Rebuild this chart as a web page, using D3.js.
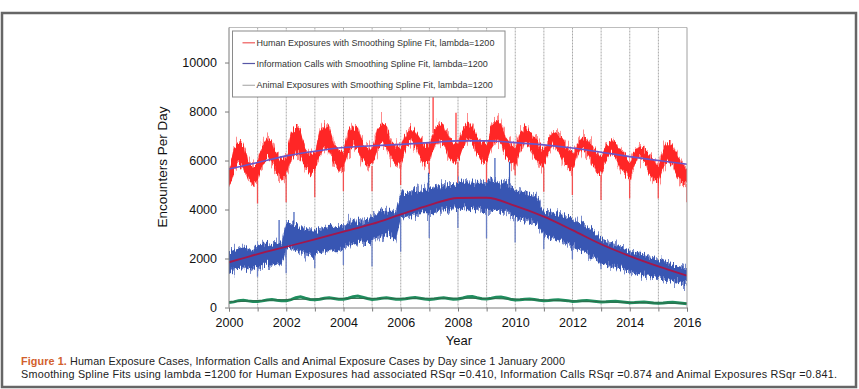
<!DOCTYPE html>
<html>
<head>
<meta charset="utf-8">
<script src="https://cdn.jsdelivr.net/npm/d3@7/dist/d3.min.js"></script>
<style>
  html, body { margin: 0; padding: 0; background: #fff; }
  svg { display: block; }
</style>
</head>
<body>
<div id="chart"></div>
<script>
// x ticks and y ticks
const yearTicks = d3.range(2000, 2017);
const yearLabels = [2000, 2002, 2004, 2006, 2008, 2010, 2012, 2014, 2016];
const yTicks = [0, 2000, 4000, 6000, 8000, 10000];

// bimonthly samples (Jan, Mar, May, Jul, Sep, Nov) from 2000 to 2016.0
const humanHigh = [
  5600, 6500, 6750, 6650, 5990, 5740,
  5900, 6620, 6870, 6770, 6250, 6000,
  6130, 7100, 7350, 7250, 6480, 6230,
  6300, 7230, 7480, 7380, 6650, 6400,
  6410, 7160, 7410, 7310, 6760, 6510,
  6480, 7230, 7480, 7380, 6830, 6580,
  6540, 7050, 7300, 7200, 6890, 6640,
  6610, 7250, 7500, 7400, 6960, 6710,
  6650, 7300, 7550, 7450, 7000, 6750,
  6610, 7400, 7650, 7550, 6960, 6710,
  6530, 7100, 7350, 7250, 6880, 6630,
  6420, 6900, 7150, 7050, 6770, 6520,
  6270, 6680, 6930, 6830, 6620, 6370,
  6100, 6580, 6830, 6730, 6450, 6200,
  5930, 6350, 6600, 6500, 6280, 6030,
  5780, 6470, 6720, 6620, 6130, 5880,
  5600
];
const humanLow = [
  4900, 5540, 5890, 5690, 5240, 4990,
  5200, 5800, 6150, 5950, 5500, 5250,
  5430, 6030, 6380, 6180, 5730, 5480,
  5600, 6200, 6550, 6350, 5900, 5650,
  5710, 6310, 6660, 6460, 6010, 5760,
  5780, 6380, 6730, 6530, 6080, 5830,
  5840, 6440, 6790, 6590, 6140, 5890,
  5910, 6510, 6860, 6660, 6210, 5960,
  5950, 6550, 6900, 6700, 6250, 6000,
  5910, 6510, 6860, 6660, 6210, 5960,
  5830, 6430, 6780, 6580, 6130, 5880,
  5720, 6320, 6670, 6470, 6020, 5770,
  5570, 6170, 6520, 6320, 5870, 5620,
  5400, 6000, 6350, 6150, 5700, 5450,
  5230, 5830, 6180, 5980, 5530, 5280,
  5080, 5680, 6030, 5830, 5380, 5130,
  5050
];
const infoHigh = [
  2250, 2350, 2400, 2450, 2400, 2350,
  2500, 2600, 2600, 2550, 2650, 2600,
  3450, 3450, 3350, 3250, 3200, 3150,
  3150, 3200, 3250, 3300, 3250, 3250,
  3350, 3450, 3550, 3550, 3500, 3550,
  3700, 3800, 3900, 3950, 3950, 3850,
  4650, 4700, 4750, 4750, 4800, 4850,
  4850, 4900, 4950, 4950, 5000, 5000,
  5100, 5150, 5100, 5100, 5050, 5050,
  5100, 5200, 5100, 5050, 5100, 4950,
  4750, 4700, 4650, 4600, 4550, 4400,
  3950, 3900, 3850, 3800, 3750, 3700,
  3650, 3550, 3450, 3300, 3150, 3000,
  2800, 2700, 2600, 2550, 2450, 2400,
  2300, 2250, 2200, 2150, 2050, 2000,
  1950, 1900, 1850, 1750, 1700, 1650,
  1550
];
const infoLow = [
  1450, 1550, 1600, 1650, 1600, 1550,
  1650, 1750, 1750, 1700, 1800, 1750,
  2400, 2450, 2350, 2250, 2200, 2150,
  2150, 2250, 2300, 2350, 2300, 2300,
  2450, 2550, 2600, 2650, 2600, 2650,
  2750, 2850, 2950, 3000, 2950, 2800,
  3650, 3700, 3750, 3800, 3850, 3850,
  3850, 3900, 3950, 3950, 4000, 4000,
  4000, 4050, 4050, 4000, 3950, 3950,
  3950, 4000, 4000, 3950, 3950, 3850,
  3650, 3600, 3550, 3500, 3450, 3300,
  2950, 2900, 2850, 2750, 2700, 2600,
  2500, 2400, 2300, 2200, 2050, 1950,
  1800, 1750, 1700, 1650, 1600, 1550,
  1500, 1450, 1400, 1350, 1300, 1250,
  1200, 1150, 1100, 1100, 1050, 1000,
  1000
];
const animal = [
  200, 230, 280, 300, 270, 250,
  250, 270, 310, 330, 300, 280,
  280, 320, 400, 440, 380, 330,
  320, 340, 380, 400, 370, 340,
  340, 380, 440, 470, 420, 370,
  330, 350, 380, 400, 370, 340,
  340, 360, 390, 410, 380, 350,
  330, 350, 380, 400, 370, 340,
  350, 390, 440, 450, 400, 360,
  350, 380, 420, 430, 390, 340,
  310, 320, 340, 350, 330, 300,
  280, 290, 310, 320, 300, 280,
  250, 260, 275, 285, 265, 245,
  220, 230, 245, 255, 235, 215,
  190, 200, 215, 225, 205, 185,
  170, 180, 200, 210, 190, 170,
  150
];

// smoothing spline fits, one value per 1 January
const humanFit = [5650, 5920, 6190, 6380, 6530, 6600, 6660, 6730, 6800, 6800, 6730, 6640, 6510, 6340, 6160, 6000, 5850];
const infoFit = [1845, 2180, 2480, 2780, 3095, 3410, 3800, 4180, 4470, 4480, 4150, 3710, 3160, 2580, 2100, 1680, 1300];
const animalFit = [230, 280, 320, 350, 370, 370, 370, 375, 380, 370, 340, 300, 265, 235, 205, 185, 165];

// New Year dips, 2001 ... 2016
const dipYears = d3.range(2001, 2017);
const humanDips = [4250, 4300, 4500, 4750, 4750, 5000, 5450, 4930, 5080, 5400, 4730, 4590, 4390, 4450, 4450, 4300];
const infoDips = [1260, 1400, 1610, 1735, 1670, 2280, 2840, 3250, 2830, 2650, 2380, 1970, 1560, 1370, 1150, 900];

// single-day spikes [year, value]
const humanSpikes = [[2007.13, 8600], [2007.93, 7950]];
const infoSpikes = [[2001.75, 3570], [2002.27, 3900], [2006.97, 5500], [2009.29, 6100], [2009.8, 5950]];

const legendItems = [
  { label: 'Human Exposures with Smoothing Spline Fit, lambda=1200', color: '#ee5a5a' },
  { label: 'Information Calls with Smoothing Spline Fit, lambda=1200', color: '#5656a6' },
  { label: 'Animal Exposures with Smoothing Spline Fit, lambda=1200', color: '#b0b0b0' }
];

const width = 859, height = 389;
const times = d3.range(humanHigh.length).map(i => 2000 + i / 6);

const svg = d3.select('#chart').append('svg')
  .attr('width', width)
  .attr('height', height);

// day-to-day jitter texture for the dense daily bands (vertical only)
const defs = svg.append('defs');
function jitter(id, seed, scale, fy) {
  const f = defs.append('filter').attr('id', id)
    .attr('x', '-2%').attr('y', '-25%').attr('width', '104%').attr('height', '150%');
  f.append('feTurbulence')
    .attr('type', 'fractalNoise')
    .attr('baseFrequency', `0.7 ${fy}`)
    .attr('numOctaves', 2)
    .attr('seed', seed)
    .attr('result', 'noise');
  f.append('feColorMatrix')
    .attr('in', 'noise')
    .attr('type', 'matrix')
    .attr('values', '1 0 0 0 0  0 0 0 0 0.5  0 0 0 0 0  0 0 0 0 1')
    .attr('result', 'nm');
  f.append('feDisplacementMap')
    .attr('in', 'SourceGraphic')
    .attr('in2', 'nm')
    .attr('scale', scale)
    .attr('xChannelSelector', 'G')
    .attr('yChannelSelector', 'R');
}
jitter('jit-core', 3, 16, 0.06);
jitter('jit-fringe', 11, 34, 0.04);
jitter('jit-fringe-b', 7, 24, 0.04);

svg.append('rect')
  .attr('x', 2).attr('y', 13)
  .attr('width', 854).attr('height', 374)
  .attr('fill', '#fff')
  .attr('stroke', '#666')
  .attr('stroke-width', 2.5);

const x = d3.scaleLinear().domain([2000, 2016]).range([229, 687]);
const y = d3.scaleLinear().domain([0, 11430]).range([307.5, 27.5]);

svg.append('clipPath').attr('id', 'plot-clip')
  .append('rect')
  .attr('x', x(2000)).attr('y', y(11430))
  .attr('width', x(2016) - x(2000)).attr('height', y(0) - y(11430));

// year grid
svg.append('g')
  .selectAll('line')
  .data(yearTicks.slice(1, -1))
  .join('line')
  .attr('x1', d => x(d)).attr('x2', d => x(d))
  .attr('y1', y(11430)).attr('y2', y(0))
  .attr('stroke', '#a9a9a9')
  .attr('stroke-dasharray', '2,1');

const plot = svg.append('g').attr('clip-path', 'url(#plot-clip)');

function band(high, low, color, fringe, fringeFilter) {
  const area = d3.area()
    .x((d, i) => x(times[i]))
    .y0((d, i) => y(low[i]))
    .y1(d => y(d));
  plot.append('path')
    .datum(high)
    .attr('d', area)
    .attr('fill', fringe)
    .attr('filter', `url(#${fringeFilter})`);
  plot.append('path')
    .datum(high)
    .attr('d', area)
    .attr('fill', color)
    .attr('filter', 'url(#jit-core)');
}

function spikes(pts, baseArr, color, w) {
  const base = d3.scaleLinear().domain(times).range(baseArr);
  plot.append('g')
    .selectAll('line')
    .data(pts)
    .join('line')
    .attr('x1', d => x(d[0])).attr('x2', d => x(d[0]))
    .attr('y1', d => y(base(d[0]))).attr('y2', d => y(d[1]))
    .attr('stroke', color)
    .attr('stroke-width', w);
}

band(humanHigh, humanLow, '#ff2626', '#ff8a8a', 'jit-fringe');
spikes(dipYears.map((d, i) => [d - 0.004, humanDips[i]]), humanLow, '#f25050', 1.3);
spikes(humanSpikes, humanHigh, '#ff2b2b', 1.2);

band(infoHigh, infoLow, '#3856b3', '#7a8ccc', 'jit-fringe-b');
spikes(dipYears.map((d, i) => [d - 0.004, infoDips[i]]), infoLow, '#6a7fc4', 1.3);
spikes(infoSpikes, infoHigh, '#3d5cb8', 1.2);

plot.append('path')
  .datum(animal)
  .attr('d', d3.line().x((d, i) => x(times[i])).y(d => y(d)))
  .attr('fill', 'none')
  .attr('stroke', '#1f8d5e')
  .attr('stroke-width', 3);

function fit(values, color, w) {
  plot.append('path')
    .datum(values)
    .attr('d', d3.line().curve(d3.curveMonotoneX).x((d, i) => x(yearTicks[i])).y(d => y(d)))
    .attr('fill', 'none')
    .attr('stroke', color)
    .attr('stroke-width', w);
}
fit(humanFit, '#6a55c8', 1.6);
fit(infoFit, '#a3174c', 1.8);
fit(animalFit, '#2f6a4a', 1);

// frame
svg.append('line')
  .attr('x1', x(2000)).attr('x2', x(2016))
  .attr('y1', y(11430)).attr('y2', y(11430))
  .attr('stroke', '#bdbdbd');
svg.append('line')
  .attr('x1', x(2016)).attr('x2', x(2016))
  .attr('y1', y(11430)).attr('y2', y(0))
  .attr('stroke', '#a0a0a0');

const font = '"Liberation Sans", Arial, sans-serif';

const yAxis = svg.append('g')
  .attr('transform', `translate(${x(2000)},0)`)
  .call(d3.axisLeft(y).tickValues(yTicks).tickSize(4).tickPadding(8).tickFormat(d3.format('d')));
yAxis.select('.domain').remove();
yAxis.append('line')
  .attr('y1', y(11430)).attr('y2', y(0))
  .attr('stroke', '#7a7a7a');

const xAxis = svg.append('g')
  .attr('transform', `translate(0,${y(0)})`)
  .call(d3.axisBottom(x).tickValues(yearTicks).tickSize(4).tickPadding(7)
    .tickFormat(d => yearLabels.includes(d) ? String(d) : ''));
xAxis.select('.domain').attr('stroke', '#7a7a7a');

svg.selectAll('.tick line').attr('stroke', '#7a7a7a');
svg.selectAll('.tick text')
  .attr('font-family', font)
  .attr('font-size', 12.5)
  .attr('fill', '#111');

svg.append('text')
  .attr('x', 459).attr('y', 344.5)
  .attr('text-anchor', 'middle')
  .attr('font-family', font)
  .attr('font-size', 13)
  .attr('fill', '#111')
  .text('Year');

svg.append('text')
  .attr('transform', 'translate(167,167) rotate(-90)')
  .attr('text-anchor', 'middle')
  .attr('font-family', font)
  .attr('font-size', 13.5)
  .attr('fill', '#111')
  .text('Encounters Per Day');

// legend
const legend = svg.append('g');
legend.append('rect')
  .attr('x', 232.5).attr('y', 31)
  .attr('width', 272.5).attr('height', 66)
  .attr('fill', '#fff')
  .attr('stroke', '#8a8a8a');
const rows = legend.selectAll('g.row')
  .data(legendItems)
  .join('g')
  .attr('class', 'row')
  .attr('transform', (d, i) => `translate(0,${[42.8, 63.5, 85.3][i]})`);
rows.append('line')
  .attr('x1', 242.5).attr('x2', 255)
  .attr('stroke', d => d.color)
  .attr('stroke-width', 1.2);
rows.append('text')
  .attr('x', 256.5).attr('dy', '0.35em')
  .attr('font-family', font)
  .attr('font-size', 9)
  .attr('fill', '#333')
  .text(d => d.label);

// caption
const cap1 = svg.append('text')
  .attr('x', 21).attr('y', 364.8)
  .attr('font-family', font)
  .attr('font-size', 10.8)
  .attr('fill', '#222')
  .attr('textLength', 544)
  .attr('lengthAdjust', 'spacing');
cap1.append('tspan').attr('fill', '#d2602c').attr('font-weight', 'bold').text('Figure 1.');
cap1.append('tspan').text('  Human Exposure Cases, Information Calls and Animal Exposure Cases by Day since 1 January 2000');

svg.append('text')
  .attr('x', 21).attr('y', 378)
  .attr('font-family', font)
  .attr('font-size', 10.8)
  .attr('fill', '#222')
  .attr('textLength', 816)
  .attr('lengthAdjust', 'spacing')
  .text('Smoothing Spline Fits using lambda =1200 for Human Exposures had associated RSqr =0.410, Information Calls RSqr =0.874 and Animal Exposures RSqr =0.841.');
</script>
</body>
</html>
